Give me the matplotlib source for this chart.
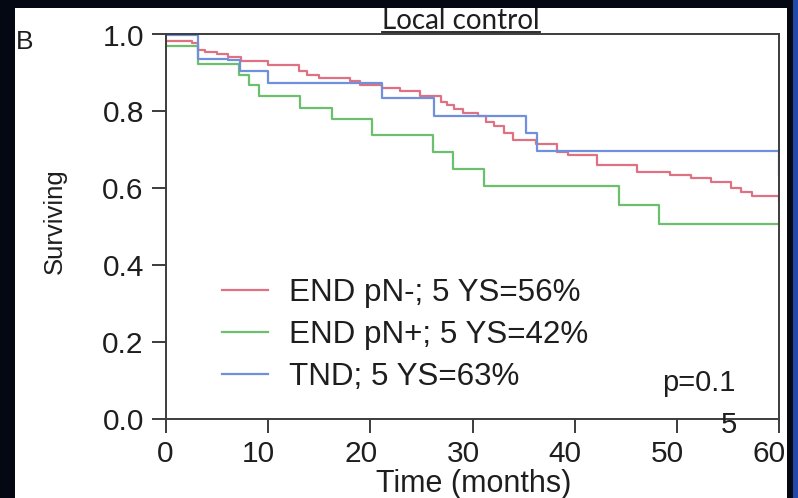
import matplotlib
matplotlib.use("Agg")
import matplotlib.pyplot as plt
from matplotlib.patches import Rectangle
from matplotlib.transforms import IdentityTransform, ScaledTranslation
from matplotlib.lines import Line2D

# === DATA ===
labels = ["END pN-; 5 YS=56%", "END pN+; 5 YS=42%", "TND; 5 YS=63%"]

red_t = [0, 2.5, 3.1, 3.8, 5.0, 6.1, 7.3, 10.0, 13.0, 13.8, 15.0, 18.0, 19.0,
         21.1, 22.9, 24.9, 26.9, 27.5, 28.2, 29.1, 30.5, 31.3, 32.1, 33.1,
         34.0, 36.2, 38.3, 39.3, 42.2, 46.1, 49.3, 51.4, 53.3, 55.3, 56.3,
         57.4, 60, 60]
red_s = [0.984, 0.978, 0.960, 0.954, 0.949, 0.941, 0.930, 0.920, 0.904, 0.895,
         0.888, 0.880, 0.869, 0.860, 0.852, 0.839, 0.825, 0.817, 0.806, 0.797,
         0.789, 0.773, 0.762, 0.743, 0.726, 0.715, 0.695, 0.687, 0.661, 0.643,
         0.635, 0.626, 0.617, 0.600, 0.591, 0.580, 0.580, 0.568]

green_t = [0, 3.1, 7.1, 8.1, 9.1, 13.1, 16.2, 20.2, 26.1, 28.1, 31.1, 44.3,
           48.3, 60]
green_s = [0.970, 0.922, 0.895, 0.869, 0.841, 0.810, 0.780, 0.739, 0.695,
           0.650, 0.607, 0.557, 0.507, 0.507]

blue_t = [0, 3.1, 6.1, 7.2, 10.0, 21.1, 26.2, 35.2, 36.3, 60, 60]
blue_s = [0.998, 0.937, 0.933, 0.906, 0.874, 0.834, 0.789, 0.743, 0.697,
          0.697, 0.635]

x_ticks = [0, 10, 20, 30, 40, 50, 60]
y_ticks = [0.0, 0.2, 0.4, 0.6, 0.8, 1.0]

# === STYLE ===
RED = "#de7282"
GREEN = "#6cbf6c"
BLUE = "#7090dc"
SPINE = "#3c3c3c"
INK = "#1e1e1e"
W, H = 798, 498
plt.rcParams['font.family'] = ['Liberation Sans', 'DejaVu Sans']

fig = plt.figure(figsize=(W / 100, H / 100), dpi=100)
fig.patch.set_facecolor("#040812")
# white slide panel + blue strip on the right (behind the axes)
fig.patches.append(Rectangle((15 / W, 0), (787 - 15) / W, (H - 8) / H,
                             transform=fig.transFigure, facecolor="white",
                             edgecolor="none", zorder=-5))
fig.patches.append(Rectangle((793 / W, 0), 5 / W, 1, transform=fig.transFigure,
                             facecolor="#1f4aa8", edgecolor="none", zorder=-5))

ax = fig.add_axes([166 / W, (H - 419) / H, (779 - 166) / W, (419 - 34.5) / H])
ax.set_facecolor("white")

ax.step(red_t, red_s, where="post", color=RED, lw=1.6, label=labels[0])
ax.step(green_t, green_s, where="post", color=GREEN, lw=1.6, label=labels[1])
ax.step(blue_t, blue_s, where="post", color=BLUE, lw=1.6, label=labels[2])

ax.set_xlim(0, 60)
ax.set_ylim(0, 1.0)
ax.set_xticks(x_ticks)
ax.set_yticks(y_ticks)
ax.set_yticklabels([f"{v:.1f}" for v in y_ticks])
for s in ax.spines.values():
    s.set_color(SPINE)
    s.set_linewidth(1.4)
ax.tick_params(axis="both", direction="out", length=10, width=1.4,
               color=SPINE, labelsize=21.5, labelcolor=INK)
ax.tick_params(axis="x", pad=5)
ax.tick_params(axis="y", pad=6)
# x labels sit a little left of their ticks in the original
shift = ScaledTranslation(7 / 100, 0, fig.dpi_scale_trans)
for lab in ax.get_xticklabels():
    lab.set_horizontalalignment("right")
    lab.set_transform(lab.get_transform() + shift)

leg = ax.legend(loc="upper left", bbox_to_anchor=(222 / W, (H - 278) / H),
                bbox_transform=fig.transFigure, frameon=False, fontsize=22.6,
                handlelength=1.45, handletextpad=0.68, labelspacing=0.38,
                borderpad=0, borderaxespad=0)
for t in leg.get_texts():
    t.set_color(INK)

# p-value, wrapped onto two lines as in the original
fig.text(699 / W, (H - 383) / H, "p=0.1", fontsize=21, color=INK,
         ha="center", va="center")
fig.text(729 / W, (H - 425) / H, "5", fontsize=21, color=INK,
         ha="center", va="center")

fig.text(474 / W, (H - 484) / H, "Time (months)", fontsize=22,
         color=INK, ha="center", va="center")
fig.text(55 / W, (H - 221) / H, "Surviving", fontsize=18.5, color=INK,
         rotation=90, ha="center", va="center")
fig.text(16 / W, (H - 42) / H, "B", fontsize=19, color=INK,
         ha="left", va="center")

title = fig.text(461 / W, (H - 29) / H, "Local control", fontsize=20,
                 family=["Lato", "DejaVu Sans"], color=INK,
                 ha="center", va="baseline")

# underline under the title
fig.canvas.draw()
bb = title.get_window_extent()
fig.lines.append(Line2D([bb.x0, bb.x1], [H - 31.5, H - 31.5], color=INK,
                        lw=1.3, transform=IdentityTransform()))

fig.savefig("out.png", dpi=100, facecolor=fig.get_facecolor())
